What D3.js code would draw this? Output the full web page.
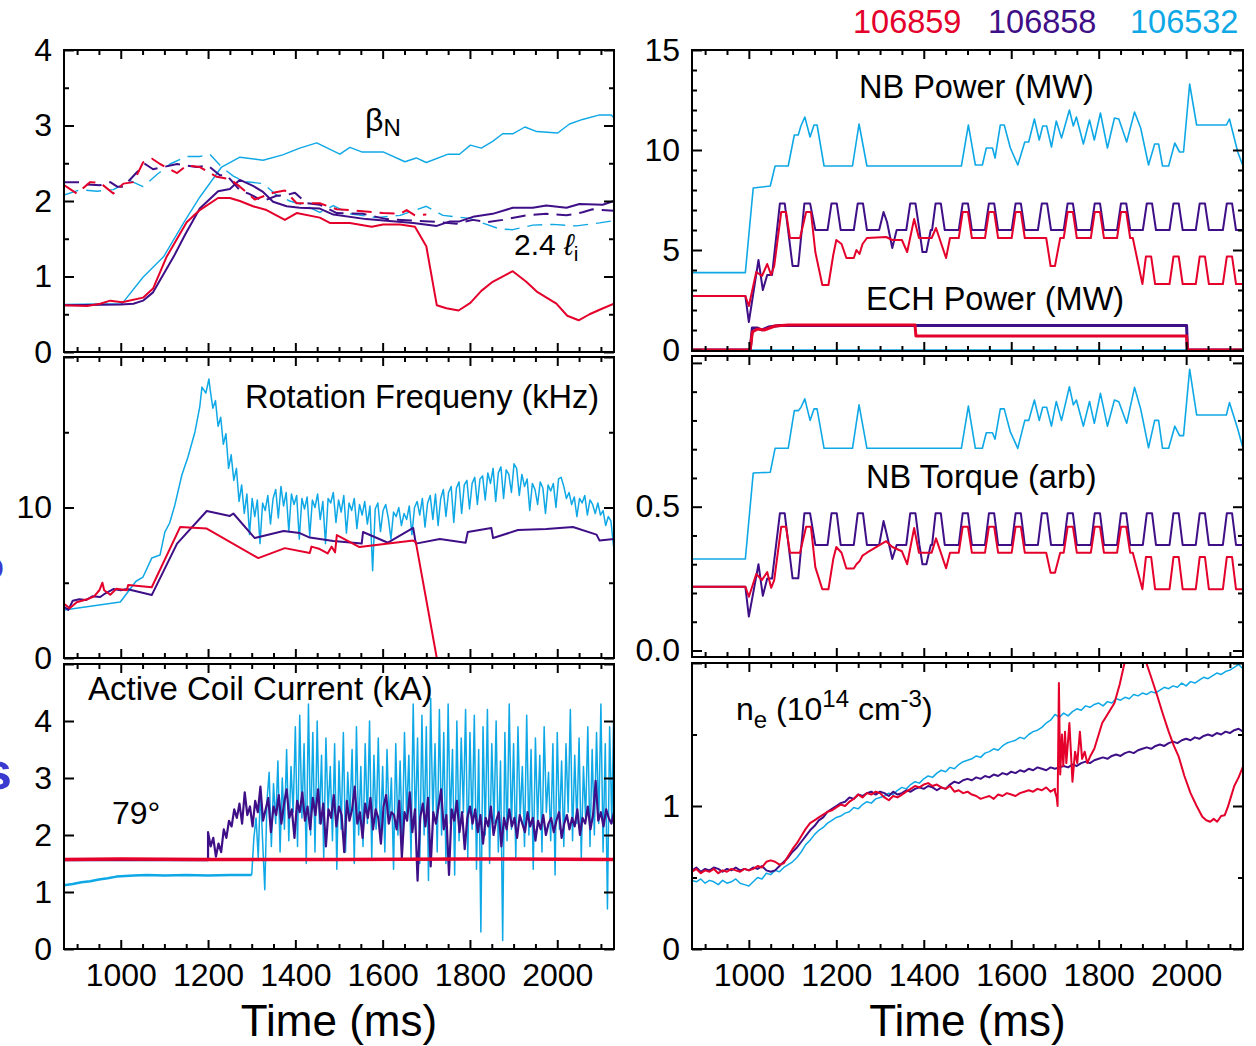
<!DOCTYPE html>
<html>
<head>
<meta charset="utf-8">
<script src="https://cdn.jsdelivr.net/npm/d3@7"></script>
<style>
  body { margin: 0; background: #fff; }
  text { font-family: "Liberation Sans", Arial, Helvetica, sans-serif; }
</style>
</head>
<body>
<script>
// ---- shots and colours ----
var shots = ["106859", "106858", "106532"];
var shotColor = {"106859": "#e4002b", "106858": "#3f0f87", "106532": "#0fa8e6"};

// ---- time axis ----
var timeDomain = [870, 2130];
var timeLabels = [1000, 1200, 1400, 1600, 1800, 2000];

// ---- beta_N (solid) and 2.4 li (dashed) : [time ms, value] ----
var betaN_106532 = [[870,0.63],[1003,0.64],[1051,0.99],[1098,1.26],[1144,1.71],[1181,2.05],[1231,2.45],[1273,2.58],[1326,2.54],[1371,2.61],[1410,2.70],[1449,2.77],[1502,2.62],[1525,2.71],[1552,2.65],[1601,2.65],[1651,2.52],[1677,2.57],[1700,2.51],[1750,2.62],[1776,2.62],[1801,2.74],[1826,2.70],[1852,2.79],[1875,2.89],[1898,2.89],[1926,2.98],[1953,2.92],[2001,2.90],[2028,3.02],[2058,3.08],[2097,3.14],[2124,3.14],[2130,3.10]];
var betaN_106859 = [[870,0.62],[923,0.61],[953,0.64],[976,0.68],[1003,0.66],[1051,0.72],[1074,0.84],[1105,1.26],[1151,1.72],[1181,1.88],[1223,2.04],[1250,2.04],[1273,2.00],[1303,1.93],[1334,1.88],[1376,1.75],[1403,1.84],[1456,1.78],[1479,1.71],[1525,1.71],[1575,1.66],[1601,1.69],[1640,1.69],[1674,1.66],[1700,1.40],[1724,0.62],[1746,0.58],[1774,0.55],[1801,0.65],[1826,0.81],[1852,0.93],[1898,1.07],[1929,0.93],[1953,0.80],[1998,0.64],[2023,0.48],[2049,0.42],[2074,0.50],[2101,0.57],[2130,0.64]];
var betaN_106858 = [[870,0.62],[1000,0.63],[1029,0.64],[1051,0.68],[1074,0.79],[1121,1.26],[1147,1.55],[1181,1.90],[1223,2.13],[1250,2.16],[1273,2.28],[1303,2.20],[1326,2.12],[1349,1.99],[1380,1.93],[1410,1.91],[1456,1.90],[1487,1.82],[1562,1.76],[1609,1.74],[1670,1.71],[1724,1.67],[1754,1.73],[1776,1.73],[1807,1.79],[1852,1.83],[1898,1.91],[1944,1.91],[1975,1.94],[2021,1.91],[2051,1.96],[2104,1.95],[2130,2.00]];
var li_106532 = [[870,2.08],[907,2.15],[946,2.13],[983,2.15],[1021,2.27],[1051,2.19],[1083,2.35],[1113,2.49],[1151,2.59],[1181,2.59],[1204,2.62],[1231,2.45],[1258,2.33],[1281,2.26],[1326,2.23],[1357,2.08],[1387,2.00],[1418,1.95],[1456,1.85],[1487,1.94],[1525,1.83],[1587,1.78],[1640,1.81],[1700,1.93],[1738,1.81],[1799,1.77],[1838,1.69],[1868,1.63],[1898,1.62],[1944,1.68],[1990,1.69],[2044,1.67],[2097,1.71],[2130,1.74]];
var li_106859 = [[870,2.21],[899,2.10],[930,2.25],[953,2.24],[983,2.10],[1006,2.23],[1029,2.25],[1051,2.51],[1072,2.56],[1090,2.49],[1129,2.37],[1151,2.47],[1181,2.45],[1220,2.32],[1250,2.29],[1273,2.19],[1307,2.02],[1349,2.11],[1376,2.14],[1403,1.97],[1456,1.97],[1495,1.89],[1525,1.88],[1601,1.84],[1640,1.83],[1655,1.88],[1674,1.81],[1700,1.82]];
var li_106858 = [[870,2.25],[907,2.25],[923,2.22],[953,2.21],[976,2.25],[992,2.19],[1006,2.19],[1037,2.38],[1056,2.49],[1074,2.42],[1098,2.45],[1129,2.49],[1174,2.45],[1200,2.47],[1227,2.34],[1243,2.34],[1258,2.24],[1273,2.14],[1292,2.10],[1326,2.00],[1357,2.07],[1380,2.08],[1399,2.11],[1426,1.97],[1456,1.95],[1495,1.84],[1555,1.83],[1609,1.76],[1670,1.74],[1731,1.72],[1769,1.70],[1807,1.75],[1838,1.72],[1875,1.75],[1929,1.81],[1975,1.83],[2021,1.81],[2058,1.85],[2081,1.89],[2130,1.87]];

// ---- rotation frequency (kHz) ----
var rot_106858 = [[870,3.4],[880,3.2],[890,3.8],[905,3.9],[920,3.85],[935,4.1],[953,4.05],[965,4.3],[983,4.58],[1000,4.5],[1014,4.58],[1071,4.18],[1129,7.6],[1197,9.77],[1250,9.44],[1258,9.6],[1307,7.97],[1373,8.44],[1410,8.3],[1433,8.0],[1487,7.77],[1552,7.6],[1555,8.37],[1612,7.66],[1670,8.64],[1676,7.6],[1731,7.9],[1790,7.66],[1795,8.37],[1849,8.64],[1853,7.97],[1910,8.5],[1975,8.57],[2036,8.7],[2090,8.2],[2097,7.8],[2130,7.9]];
var rot_106859 = [[870,3.6],[883,3.3],[899,3.7],[923,3.9],[939,4.1],[951,4.5],[958,5.0],[962,4.5],[976,4.2],[990,4.6],[1014,4.5],[1017,4.85],[1071,4.7],[1136,8.7],[1197,8.6],[1315,6.64],[1376,7.3],[1433,6.97],[1437,7.4],[1456,7.24],[1474,6.95],[1483,7.4],[1491,7.02],[1495,8.17],[1547,7.37],[1670,7.8],[1676,7.7],[1724,0],[1740,-1.5]];
var rotRise_106532 = [[870,3.19],[999,3.72],[1025,4.72],[1035,5.1],[1051,5.38],[1071,6.64],[1090,6.84],[1101,8.37],[1112,8.97],[1124,10.17],[1140,12.16],[1154,13.36],[1170,15.02],[1181,16.68],[1186,18.0],[1195,17.6],[1202,18.54],[1205,17.8]];
// sampled every 6 ms from 1205 ms
var rotNoisy_106532 = [17.8,16.6,17.1,15.4,16.0,14.2,14.9,12.6,13.5,11.8,12.6,10.4,11.5,9.6,10.9,8.2,10.6,
  9.4,10.5,7.6,10.3,9.8,10.8,8.9,10.6,11.2,9.3,11.4,10.1,11.0,8.4,10.9,10.2,10.8,7.9,10.6,
  9.9,10.7,8.1,10.5,10.0,10.9,9.2,10.4,7.6,10.6,10.3,11.0,9.0,10.5,9.7,10.8,8.3,
  10.3,9.8,10.6,8.6,10.2,9.5,10.4,8.9,10.1,5.8,9.9,10.3,8.4,9.8,10.2,9.3,7.9,9.7,
  9.4,10.0,8.8,9.6,9.2,10.1,8.2,10.0,10.4,9.5,10.6,8.7,10.3,10.8,9.2,
  10.9,8.8,10.6,11.2,9.4,11.0,11.4,9.0,11.3,11.7,9.6,11.5,11.8,9.9,11.6,
  12.0,10.2,11.9,12.1,10.5,12.3,11.6,12.6,10.4,12.3,12.7,10.6,12.5,12.2,11.0,
  12.9,12.6,10.8,12.2,11.4,11.9,9.8,11.6,11.2,10.2,
  11.7,11.3,9.6,11.5,11.1,11.6,10.0,11.9,12.0,11.4,
  10.6,11.0,10.2,10.7,9.4,10.6,10.3,10.8,9.5,10.5,
  10.2,9.6,10.3,9.5,9.8,8.8,9.4,9.1,7.4];

// ---- active coil current (kA) ----
var coil_106859 = [[870,1.57],[1000,1.58],[1200,1.57],[1500,1.57],[1800,1.58],[2130,1.57]];
var coilFlat_106858 = [[870,1.56],[1200,1.56]];
// sampled every 6 ms from 1200 ms
var coilNoisy_106858 = [2.05,1.80,1.95,1.62,1.85,1.70,2.10,1.95,2.25,2.15,2.45,
  2.30,2.55,2.20,2.75,2.35,2.50,2.15,2.60,2.40,2.85,2.25,2.45,2.65,2.05,2.50,2.35,2.70,2.20,2.55,2.80,2.30,2.45,1.95,2.60,2.40,2.75,2.25,2.50,2.10,2.65,
  2.35,2.80,2.20,2.55,1.80,2.45,2.30,2.70,2.15,2.50,2.35,1.70,2.60,2.25,2.45,2.85,2.20,2.40,1.95,2.55,2.30,2.65,2.10,2.45,2.30,1.85,2.50,2.70,2.20,2.40,
  2.35,2.10,2.60,1.60,2.40,2.25,2.75,2.05,2.45,1.20,2.30,2.55,2.15,2.65,1.45,2.40,2.20,2.50,2.80,2.10,2.35,1.30,2.45,2.25,2.60,2.05,2.40,1.75,2.30,2.50,
  2.20,2.45,2.05,2.35,1.85,2.30,2.15,2.50,2.00,2.25,2.40,1.80,2.30,2.10,2.45,2.15,2.30,1.95,2.35,2.20,2.05,2.40,2.15,2.30,1.90,2.25,2.10,2.35,2.00,2.20,
  2.30,2.05,2.25,2.40,1.95,2.20,2.35,2.10,2.30,2.15,2.45,2.00,2.30,2.20,2.50,2.10,2.35,2.95,2.25,2.40,2.15,2.45,2.30,2.20,2.40];
var coilFlat_106532 = [[870,1.12],[890,1.14],[910,1.17],[930,1.19],[950,1.22],[970,1.24],[990,1.27],[1010,1.28],[1030,1.29],[1060,1.30],[1100,1.29],[1150,1.30],[1200,1.29],[1250,1.30],[1300,1.30]];
// sampled every 5 ms from 1300 ms
var coilNoisy_106532 = [1.30,1.95,2.30,1.60,2.80,1.90,1.04,2.60,3.10,1.80,2.90,2.20,3.30,1.70,3.00,2.10,3.50,1.90,3.20,2.40,
  3.90,1.80,4.10,2.30,3.60,1.50,4.30,2.00,3.80,1.70,4.00,2.20,3.40,1.60,3.70,2.40,3.20,1.90,3.60,1.40,
  3.30,2.10,3.80,1.70,3.10,2.30,3.50,1.50,3.90,2.00,3.20,1.80,3.60,2.20,4.00,1.60,3.40,2.10,3.70,1.90,
  3.20,1.70,3.50,2.20,3.00,1.40,3.60,2.00,3.30,1.80,3.80,2.30,3.40,1.60,4.30,2.10,3.70,1.50,4.10,2.00,
  3.90,1.20,4.40,2.30,3.60,1.70,4.20,2.00,3.80,1.50,4.30,2.20,3.50,1.30,4.00,1.90,3.70,2.40,4.20,1.60,
  3.80,2.10,4.10,1.40,3.50,0.30,3.90,2.00,4.20,1.50,3.60,2.20,4.00,1.70,3.30,0.15,3.80,1.90,4.30,2.10,
  3.60,1.60,3.90,2.30,3.20,1.80,4.10,2.00,3.50,1.40,3.70,2.20,3.40,1.70,3.90,2.40,3.10,1.90,3.60,1.30,
  3.80,2.10,3.30,1.80,3.60,2.40,4.20,1.90,3.40,2.20,3.70,1.60,3.20,2.30,3.90,1.80,3.50,2.00,3.80,2.20,
  4.30,1.70,3.60,0.70,3.90,2.20,4.40];

// ---- NB power (MW) and NB torque (arb), same breakpoints ----
var nbTime_106532 = [870,992,1010,1049,1060,1090,1104,1113,1119,1128,1140,1149,1156,1172,1237,1252,1270,1486,1502,1518,1534,1543,1557,1563,1575,1584,1598,1615,1631,1640,1653,1664,1672,1681,1692,1703,1715,1733,1742,1749,1765,1779,1790,1804,1820,1836,1846,1864,1882,1896,1914,1928,1937,1946,1960,1974,1985,1994,2008,2024,2092,2099,2118,2130];
var nbPower_106532 = [3.87,3.87,8.1,8.2,9.2,9.2,10.75,10.75,11.2,11.65,10.65,11.25,11.25,9.2,9.2,11.3,9.2,9.2,11.25,9.25,9.25,10.1,10.1,9.6,11.25,11.25,10.1,9.25,10.4,10.4,11.55,10.5,11.2,11.2,10.15,11.45,10.6,12.0,11.2,11.65,10.3,11.5,10.5,11.85,10.1,11.6,11.55,10.4,11.9,11.1,9.25,10.3,10.3,9.2,9.2,10.35,9.9,9.9,13.3,11.25,11.25,11.55,9.9,9.2];
var nbTorque_106532 = [0.318,0.318,0.617,0.62,0.703,0.703,0.834,0.834,0.845,0.875,0.80,0.84,0.84,0.703,0.703,0.854,0.703,0.703,0.85,0.703,0.703,0.757,0.757,0.735,0.84,0.84,0.76,0.703,0.80,0.80,0.871,0.80,0.846,0.846,0.78,0.866,0.80,0.917,0.854,0.871,0.78,0.866,0.79,0.894,0.78,0.871,0.865,0.79,0.915,0.84,0.705,0.80,0.80,0.703,0.703,0.78,0.747,0.747,0.978,0.819,0.819,0.862,0.77,0.703];

var nbTime_106858 = [870,992,1000,1022,1032,1042,1053,1071,1082,1088,1100,1113,1127,1140,1152,1180,1189,1201,1210,1240,1249,1261,1270,1298,1308,1316,1328,1338,1360,1369,1381,1390,1397,1406,1416,
  1419,1427,1439,1448,1480,1489,1501,1510,1540,1549,1561,1570,1601,1610,1622,1631,1661,1670,1682,1691,1720,1729,1741,1750,1782,1791,1803,1812,1842,1851,1863,1872,1901,1910,1922,1931,1962,1971,1983,1992,2022,2031,2043,2052,2084,2093,2105,2114,2130];
var nbPower_106858 = [2.7,2.7,1.4,4.5,3.0,3.75,3.75,7.33,7.33,6.3,4.2,4.2,7.33,7.33,6.0,6.0,7.33,7.33,6.0,6.0,7.33,7.33,6.0,6.0,6.9,6.4,5.1,6.0,6.0,7.33,7.33,6.0,4.9,4.9,6.0,
  6.0,7.33,7.33,6.0,6.0,7.33,7.33,6.0,6.0,7.33,7.33,6.0,6.0,7.33,7.33,6.0,6.0,7.33,7.33,6.0,6.0,7.33,7.33,6.0,6.0,7.33,7.33,6.0,6.0,7.33,7.33,6.0,6.0,7.33,7.33,6.0,6.0,7.33,7.33,6.0,6.0,7.33,7.33,6.0,6.0,7.33,7.33,6.0,6.0];
var nbTorque_106858 = [0.222,0.222,0.118,0.30,0.19,0.25,0.25,0.477,0.477,0.40,0.251,0.251,0.477,0.477,0.367,0.367,0.477,0.477,0.367,0.367,0.477,0.477,0.367,0.367,0.45,0.40,0.318,0.367,0.367,0.477,0.477,0.367,0.30,0.30,0.367,
  0.367,0.477,0.477,0.367,0.367,0.477,0.477,0.367,0.367,0.477,0.477,0.367,0.367,0.477,0.477,0.367,0.367,0.477,0.477,0.367,0.367,0.477,0.477,0.367,0.367,0.477,0.477,0.367,0.367,0.477,0.477,0.367,0.367,0.477,0.477,0.367,0.367,0.477,0.477,0.367,0.367,0.477,0.477,0.367,0.367,0.477,0.477,0.367,0.367];

var nbTime_106859 = [870,992,1000,1017,1030,1042,1051,1058,1074,1085,1094,1117,1131,1142,1152,1168,1182,1193,1200,1212,1223,1240,1246,1253,1260,1270,1314,1328,1350,1362,1378,1389,1418,1428,1451,1460,
  1480,1489,1501,1510,1540,1549,1561,1570,1601,1610,1622,1631,1680,1690,1700,1712,1720,1729,1741,1750,1782,1791,1803,1812,1842,1851,1863,1872,1878,
  1900,1908,1920,1929,1962,1971,1983,1992,2022,2031,2043,2052,2084,2093,2105,2114,2130];
var nbPower_106859 = [2.7,2.7,2.2,3.9,3.7,4.3,3.75,4.2,6.9,6.9,5.6,5.6,6.9,6.9,4.9,3.25,3.25,4.75,5.5,5.3,4.6,4.6,5.0,4.8,5.3,5.6,5.65,5.5,5.5,4.9,6.55,5.6,5.6,6.1,4.6,5.6,
  5.6,6.9,6.9,5.6,5.6,6.9,6.9,5.6,5.6,6.9,6.9,5.6,5.6,4.2,4.2,5.6,5.6,6.9,6.9,5.6,5.6,6.9,6.9,5.6,5.6,6.9,6.9,5.6,5.6,
  3.3,4.67,4.67,3.3,3.3,4.67,4.67,3.3,3.3,4.67,4.67,3.3,3.3,4.67,4.67,3.3,3.3];
var nbTorque_106859 = [0.222,0.222,0.187,0.266,0.245,0.273,0.218,0.245,0.43,0.43,0.34,0.34,0.43,0.43,0.29,0.213,0.213,0.318,0.36,0.34,0.285,0.285,0.30,0.31,0.33,0.34,0.38,0.36,0.345,0.30,0.426,0.34,0.34,0.39,0.286,0.34,
  0.34,0.43,0.43,0.34,0.34,0.43,0.43,0.34,0.34,0.43,0.43,0.34,0.34,0.27,0.27,0.34,0.34,0.43,0.43,0.34,0.34,0.43,0.43,0.34,0.34,0.43,0.43,0.34,0.34,
  0.213,0.325,0.325,0.213,0.213,0.325,0.325,0.213,0.213,0.325,0.325,0.213,0.213,0.325,0.325,0.213,0.213];

// ---- ECH power (MW) ----
var ech_106532 = [[870,0],[2130,0]];
var ech_106858 = [[870,0],[1003,0],[1008,1.1],[1020,1.1],[1030,1.0],[1045,1.15],[1070,1.22],[2001,1.22],[2003,0],[2130,0]];
var ech_106859 = [[870,0],[1003,0],[1008,0.9],[1020,1.05],[1035,1.0],[1060,1.2],[1090,1.25],[1380,1.25],[1382,0.7],[2001,0.7],[2003,0],[2130,0]];

// ---- density n_e (1e14 cm^-3), sampled every 10 ms from 870 ms ----
var ne_106532 = [0.48,0.47,0.49,0.46,0.48,0.47,0.45,0.48,0.46,0.47,0.49,0.46,0.45,0.44,
  0.47,0.50,0.49,0.53,0.52,0.55,0.54,0.57,0.59,0.61,
  0.64,0.68,0.73,0.76,0.80,0.83,0.85,0.88,0.90,0.92,
  0.93,0.95,0.96,0.99,0.98,1.01,1.03,1.02,1.05,1.06,
  1.07,1.09,1.08,1.11,1.13,1.12,1.15,1.17,1.16,1.19,
  1.21,1.20,1.23,1.25,1.24,1.27,1.26,1.29,1.31,1.32,
  1.33,1.35,1.34,1.37,1.38,1.40,1.39,1.42,1.44,1.45,
  1.46,1.48,1.47,1.50,1.52,1.53,1.55,1.58,1.60,1.64,
  1.62,1.65,1.63,1.66,1.68,1.67,1.70,1.69,1.71,1.72,
  1.70,1.73,1.72,1.75,1.74,1.76,1.75,1.78,1.77,1.79,
  1.78,1.80,1.79,1.81,1.83,1.82,1.84,1.83,1.86,1.84,
  1.87,1.86,1.88,1.90,1.89,1.91,1.93,1.92,1.94,1.95,
  1.97,1.99,1.96];
var ne_106858 = [0.55,0.57,0.54,0.56,0.55,0.57,0.56,0.54,0.56,0.55,0.57,0.55,0.56,0.55,
  0.57,0.56,0.58,0.55,0.54,0.55,0.58,0.61,0.64,0.68,
  0.71,0.75,0.79,0.83,0.86,0.90,0.92,0.96,0.98,1.00,
  1.02,1.03,1.06,1.05,1.08,1.07,1.09,1.10,1.08,1.10,
  1.09,1.07,1.10,1.08,1.09,1.11,1.10,1.12,1.13,1.12,
  1.14,1.13,1.11,1.13,1.12,1.15,1.17,1.16,1.18,1.19,
  1.18,1.20,1.19,1.21,1.20,1.22,1.21,1.23,1.22,1.24,
  1.23,1.25,1.24,1.26,1.25,1.27,1.26,1.25,1.27,1.26,
  1.27,1.28,1.27,1.29,1.28,1.30,1.31,1.30,1.32,1.33,
  1.34,1.33,1.35,1.36,1.35,1.37,1.38,1.37,1.39,1.40,
  1.41,1.40,1.42,1.43,1.42,1.44,1.45,1.44,1.46,1.47,
  1.46,1.48,1.47,1.49,1.50,1.49,1.51,1.50,1.52,1.51,
  1.53,1.54,1.52];
var neEarly_106859 = [0.54,0.56,0.53,0.55,0.54,0.56,0.53,0.55,0.54,0.56,0.55,0.54,0.56,0.55,
  0.56,0.58,0.57,0.61,0.62,0.61,0.59,0.60,0.65,0.70,
  0.74,0.79,0.84,0.88,0.90,0.92,0.94,0.96,0.97,0.99,
  1.01,1.00,1.03,1.05,1.08,1.06,1.09,1.08,1.10,1.09,
  1.06,1.04,1.07,1.06,1.08,1.10,1.12,1.14,1.13,1.15,
  1.16,1.14,1.15,1.13,1.12,1.14,1.10,1.11,1.09,1.10,
  1.08,1.07,1.05,1.06,1.07,1.05,1.08,1.07,1.09,1.08,
  1.07,1.09,1.10,1.11,1.10,1.12,1.11,1.13,1.10,1.12];
var neLate_106859 = [[1700,1.10],[1704,1.06],[1706,1.00],[1709,1.86],[1712,1.22],[1716,1.50],[1719,1.28],[1723,1.52],[1726,1.30],[1733,1.58],[1740,1.17],[1746,1.38],[1751,1.30],[1757,1.52],[1762,1.33],[1768,1.38],[1774,1.30],[1781,1.35],[1790,1.40],[1800,1.50],[1808,1.58],[1820,1.64],[1836,1.72],[1848,1.85],[1859,2.0],[1870,2.1],[1885,2.15],[1898,2.08],[1909,2.0],[1920,1.90],[1933,1.78],[1946,1.65],[1960,1.52],[1972,1.42],[1983,1.345],[1996,1.21],[2010,1.09],[2024,1.0],[2037,0.925],[2046,0.90],[2055,0.89],[2063,0.91],[2071,0.89],[2080,0.93],[2088,0.935],[2095,0.99],[2101,1.05],[2110,1.14],[2120,1.20],[2130,1.275]];

// helpers to pair sampled values with their times
function sampled(values, t0, dt) { return values.map(function (v, i) { return [t0 + dt * i, v]; }); }
function zipped(times, values) { return times.map(function (t, i) { return [t, values[i]]; }); }

var svg = d3.select("body").append("svg").attr("width", 1256).attr("height", 1046);
svg.append("rect").attr("width", 1256).attr("height", 1046).attr("fill", "#fff");

var minorTimes = d3.range(900, 2130, 50).filter(function (t) { return t % 200 !== 0; });

// draws one framed panel with inward ticks on all four sides
function makePanel(p) {
  var w = p.right - p.left, h = p.bottom - p.top;
  var g = svg.append("g").attr("transform", "translate(" + p.left + "," + p.top + ")");
  var x = d3.scaleLinear().domain(timeDomain).range([0, w]);
  var y = d3.scaleLinear().domain(p.yDomain).range([h, 0]);

  g.append("clipPath").attr("id", "clip-" + p.id)
    .append("rect").attr("width", w).attr("height", h);
  var plot = g.append("g").attr("clip-path", "url(#clip-" + p.id + ")");

  function tickSet(axis, tr, values, size) {
    g.append("g").attr("transform", tr)
      .call(axis.tickValues(values).tickSize(size).tickFormat(""))
      .call(function (a) { a.select(".domain").remove(); a.selectAll("line").attr("stroke-width", 2); });
  }
  tickSet(d3.axisBottom(x), "translate(0,0)", timeLabels, 9);
  tickSet(d3.axisBottom(x), "translate(0,0)", minorTimes, 5);
  tickSet(d3.axisTop(x), "translate(0," + h + ")", timeLabels, 9);
  tickSet(d3.axisTop(x), "translate(0," + h + ")", minorTimes, 5);
  tickSet(d3.axisRight(y), "translate(0,0)", p.major, 10);
  tickSet(d3.axisRight(y), "translate(0,0)", p.minor, 5);
  tickSet(d3.axisLeft(y), "translate(" + w + ",0)", p.major, 10);
  tickSet(d3.axisLeft(y), "translate(" + w + ",0)", p.minor, 5);

  // y labels
  var yl = g.append("g")
    .call(d3.axisLeft(y).tickValues(p.labels).tickSize(0).tickPadding(12).tickFormat(p.fmt || d3.format("d")));
  yl.select(".domain").remove();
  yl.attr("font-size", 32).attr("font-family", null);

  if (p.xLabels) {
    var xl = g.append("g").attr("transform", "translate(0," + h + ")")
      .call(d3.axisBottom(x).tickValues(timeLabels).tickSize(0).tickPadding(14).tickFormat(d3.format("d")));
    xl.select(".domain").remove();
    xl.attr("font-size", 32).attr("font-family", null);
    g.append("text").attr("x", w / 2).attr("y", 1036 - p.top)
      .attr("text-anchor", "middle").attr("font-size", 44).text("Time (ms)");
  }

  g.append("rect").attr("width", w).attr("height", h)
    .attr("fill", "none").attr("stroke", "#000").attr("stroke-width", 2);

  return { g: g, plot: plot, x: x, y: y };
}

function drawLine(panel, data, color, width, dash) {
  var line = d3.line().x(function (d) { return panel.x(d[0]); }).y(function (d) { return panel.y(d[1]); });
  panel.plot.append("path").datum(data)
    .attr("d", line).attr("fill", "none")
    .attr("stroke", color).attr("stroke-width", width)
    .attr("stroke-linejoin", "round")
    .attr("stroke-dasharray", dash || null);
}

var RED = shotColor["106859"], PURPLE = shotColor["106858"], BLUE = shotColor["106532"];

// ---- beta_N / li ----
var pBeta = makePanel({ id: "beta", left: 64, right: 614, top: 50, bottom: 352, yDomain: [0, 4],
  major: [0, 1, 2, 3, 4], minor: [0.5, 1.5, 2.5, 3.5], labels: [0, 1, 2, 3, 4] });
drawLine(pBeta, li_106532, BLUE, 1.4, "15,8");
drawLine(pBeta, betaN_106532, BLUE, 1.4);
drawLine(pBeta, li_106858, PURPLE, 2, "15,8");
drawLine(pBeta, betaN_106858, PURPLE, 2);
drawLine(pBeta, li_106859, RED, 2, "15,8");
drawLine(pBeta, betaN_106859, RED, 2);
var bt = svg.append("text").attr("x", 365).attr("y", 131).attr("font-size", 32);
bt.append("tspan").text("β");
bt.append("tspan").attr("dy", 5).attr("font-size", 24).text("N");
var lt = svg.append("text").attr("x", 514).attr("y", 255).attr("font-size", 30);
lt.append("tspan").text("2.4 ");
lt.append("tspan").attr("font-style", "italic").text("ℓ");
lt.append("tspan").attr("dy", 6).attr("font-size", 21).text("i");

// ---- rotation ----
var pRot = makePanel({ id: "rot", left: 64, right: 614, top: 357, bottom: 658, yDomain: [0, 20],
  major: [0, 10, 20], minor: [5, 15], labels: [0, 10] });
drawLine(pRot, rotRise_106532.concat(sampled(rotNoisy_106532, 1205, 6)), BLUE, 1.5);
drawLine(pRot, rot_106858, PURPLE, 2);
drawLine(pRot, rot_106859, RED, 2);
svg.append("text").attr("x", 245).attr("y", 408).attr("font-size", 32.5).text("Rotation Frequeny (kHz)");

// ---- coil current ----
var pCoil = makePanel({ id: "coil", left: 64, right: 614, top: 664, bottom: 949, yDomain: [0, 5],
  major: [0, 1, 2, 3, 4, 5], minor: [], labels: [0, 1, 2, 3, 4] });
drawLine(pCoil, coilFlat_106532, BLUE, 2.5);
drawLine(pCoil, sampled(coilNoisy_106532, 1300, 5), BLUE, 1.5);
drawLine(pCoil, coilFlat_106858.concat(sampled(coilNoisy_106858, 1200, 6)), PURPLE, 2.2);
drawLine(pCoil, coil_106859, RED, 3.5);
svg.append("text").attr("x", 88).attr("y", 700).attr("font-size", 33).text("Active Coil Current (kA)");
svg.append("text").attr("x", 112).attr("y", 824).attr("font-size", 32).text("79°");

// ---- NB / ECH power ----
var pNb = makePanel({ id: "nb", left: 692, right: 1243, top: 50, bottom: 351, yDomain: [-0.05, 15],
  major: [0, 5, 10, 15], minor: [1, 2, 3, 4, 6, 7, 8, 9, 11, 12, 13, 14], labels: [0, 5, 10, 15] });
drawLine(pNb, ech_106532, BLUE, 1.5);
drawLine(pNb, zipped(nbTime_106532, nbPower_106532), BLUE, 1.6);
drawLine(pNb, zipped(nbTime_106858, nbPower_106858), PURPLE, 2);
drawLine(pNb, zipped(nbTime_106859, nbPower_106859), RED, 2);
drawLine(pNb, ech_106858, PURPLE, 3);
drawLine(pNb, ech_106859, RED, 3);
svg.append("text").attr("x", 859).attr("y", 98).attr("font-size", 32.5).text("NB Power (MW)");
svg.append("text").attr("x", 866).attr("y", 310).attr("font-size", 32.5).text("ECH Power (MW)");

// ---- NB torque ----
var pTq = makePanel({ id: "tq", left: 692, right: 1243, top: 356, bottom: 657, yDomain: [-0.0226, 1.024],
  major: [0, 0.5, 1.0], minor: [0.1, 0.2, 0.3, 0.4, 0.6, 0.7, 0.8, 0.9], labels: [0, 0.5], fmt: d3.format(".1f") });
drawLine(pTq, zipped(nbTime_106532, nbTorque_106532), BLUE, 1.6);
drawLine(pTq, zipped(nbTime_106858, nbTorque_106858), PURPLE, 2);
drawLine(pTq, zipped(nbTime_106859, nbTorque_106859), RED, 2);
svg.append("text").attr("x", 866).attr("y", 488).attr("font-size", 32.5).text("NB Torque (arb)");

// ---- density ----
var pNe = makePanel({ id: "ne", left: 692, right: 1243, top: 663, bottom: 949, yDomain: [0, 2],
  major: [0, 1, 2], minor: [0.5, 1.5], labels: [0, 1], xLabels: true });
drawLine(pNe, sampled(ne_106532, 870, 10), BLUE, 1.5);
drawLine(pNe, sampled(ne_106858, 870, 10), PURPLE, 2);
drawLine(pNe, sampled(neEarly_106859, 870, 10).concat(neLate_106859), RED, 2);
var nt = svg.append("text").attr("x", 736).attr("y", 720).attr("font-size", 32);
nt.append("tspan").text("n");
nt.append("tspan").attr("dy", 8).attr("font-size", 24).text("e");
nt.append("tspan").attr("dy", -8).text(" (10");
nt.append("tspan").attr("dy", -13).attr("font-size", 24).text("14");
nt.append("tspan").attr("dy", 13).text(" cm");
nt.append("tspan").attr("dy", -13).attr("font-size", 24).text("-3");
nt.append("tspan").attr("dy", 13).text(")");

// time labels under the left column too
(function () {
  var xl = pCoil.g.append("g").attr("transform", "translate(0,285)")
    .call(d3.axisBottom(pCoil.x).tickValues(timeLabels).tickSize(0).tickPadding(14).tickFormat(d3.format("d")));
  xl.select(".domain").remove();
  xl.attr("font-size", 32).attr("font-family", null);
  pCoil.g.append("text").attr("x", 275).attr("y", 1036 - 664)
    .attr("text-anchor", "middle").attr("font-size", 44).text("Time (ms)");
})();

// ---- legend ----
var legendX = { "106859": 853, "106858": 988, "106532": 1130 };
svg.selectAll("text.legend").data(shots).enter().append("text")
  .attr("class", "legend").attr("x", function (d) { return legendX[d]; }).attr("y", 33)
  .attr("font-size", 32.5).attr("fill", function (d) { return shotColor[d]; })
  .text(function (d) { return d; });

// clipped text from the neighbouring slide at the left edge
svg.append("text").attr("x", 4).attr("y", 580).attr("text-anchor", "end")
  .attr("font-size", 34).attr("font-weight", "bold").attr("fill", "#3a3ad0").text("O");
svg.append("text").attr("x", 12).attr("y", 789).attr("text-anchor", "end")
  .attr("font-size", 52).attr("font-weight", "bold").attr("fill", "#3a3ad0").text("s");
</script>
</body>
</html>
